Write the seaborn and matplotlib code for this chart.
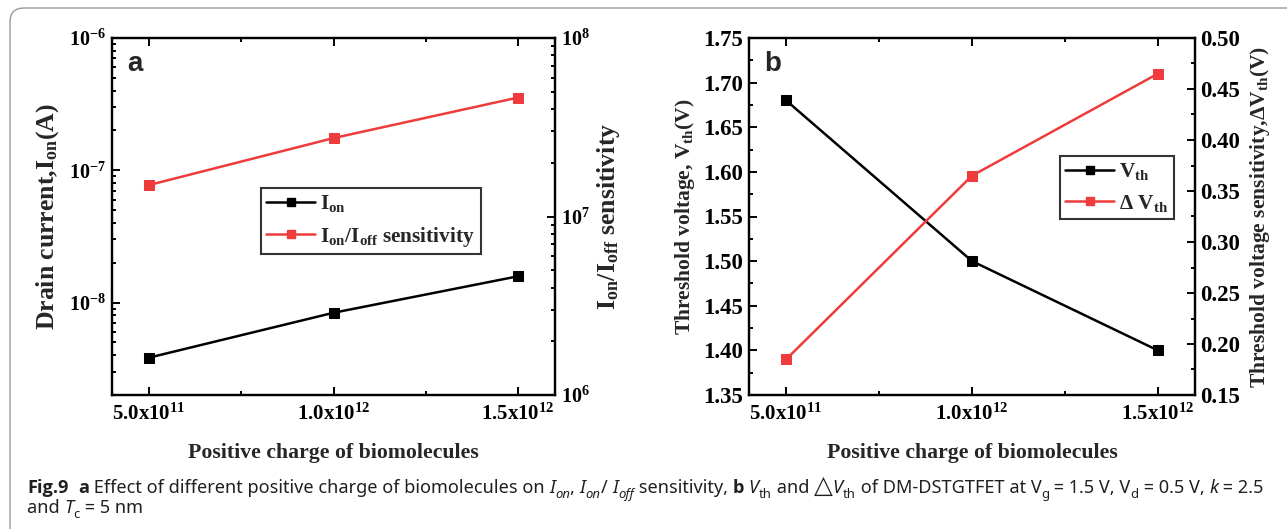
import numpy as np
import pandas as pd
import matplotlib
matplotlib.use('Agg')
import matplotlib.pyplot as plt
import seaborn as sns
from matplotlib import font_manager as fm
from matplotlib.patches import FancyBboxPatch
from matplotlib.transforms import IdentityTransform
from matplotlib.ticker import FixedLocator, FuncFormatter, LogLocator, MultipleLocator, NullFormatter
from matplotlib.lines import Line2D

# ---------------- data ----------------
charge = [5e11, 1e12, 1.5e12]
ion = [3.83e-9, 8.37e-9, 1.58e-8]
ion_ioff_sens = [1.50e7, 2.75e7, 4.64e7]
vth = [1.68, 1.50, 1.40]
dvth = [0.185, 0.365, 0.465]
x_ticks = [5e11, 1e12, 1.5e12]
vth_ticks = [1.35, 1.40, 1.45, 1.50, 1.55, 1.60, 1.65, 1.70, 1.75]
dvth_ticks = [0.15, 0.20, 0.25, 0.30, 0.35, 0.40, 0.45, 0.50]

BLACK = '#000000'
RED = '#EE3B3B'

sns.set_theme(style='ticks')
plt.rcParams.update({
    'font.family': ['Liberation Serif', 'DejaVu Serif'],
    'font.weight': 'bold',
    'axes.labelweight': 'bold',
    'mathtext.fontset': 'custom',
    'mathtext.rm': 'Liberation Serif:bold',
    'mathtext.it': 'Liberation Serif:bold',
    'mathtext.bf': 'Liberation Serif:bold',
    'axes.linewidth': 1.6,
    'axes.edgecolor': 'black',
})

W, H = 1287, 529
fig = plt.figure(figsize=(W / 100, H / 100), dpi=100)
fig.patch.set_facecolor('white')

XTICK_FS = 15
LOGTICK_FS = 14.5
DECTICK_FS = 16.5
XLABEL_FS = 15.7
YLABEL_A_FS = 18.5
YLABEL_B_FS = 15.5
LEG_FS = 15.3


def xfmt(v, pos):
    e = int(np.floor(np.log10(v)))
    m = v / 10 ** e
    return r'$\mathrm{%.1fx10^{%d}}$' % (m, e)


def logfmt(v, pos):
    e = int(round(np.log10(v)))
    return r'$\mathrm{10^{%d}}$' % e


def style_common(ax, yfs):
    ax.set_xlim(4e11, 1.6e12)
    ax.xaxis.set_major_locator(FixedLocator(x_ticks))
    ax.xaxis.set_minor_locator(MultipleLocator(2.5e11))
    ax.xaxis.set_major_formatter(FuncFormatter(xfmt))
    ax.tick_params(axis='both', which='both', direction='in', width=1.4, colors='black')
    ax.tick_params(axis='x', which='both', top=True, bottom=True, labelsize=XTICK_FS, pad=6)
    ax.tick_params(axis='y', which='both', left=True, right=False, labelsize=yfs, pad=4)
    ax.tick_params(which='major', length=6)
    ax.tick_params(which='minor', length=3)
    for s in ax.spines.values():
        s.set_linewidth(1.6)
        s.set_color('black')


def style_twin(ax2, yfs):
    ax2.tick_params(axis='y', which='both', direction='in', width=1.4,
                    labelsize=yfs, left=False, right=True, colors='black', pad=4)
    ax2.tick_params(axis='y', which='major', length=6)
    ax2.tick_params(axis='y', which='minor', length=3)
    ax2.tick_params(axis='x', which='both', top=False, bottom=False,
                    labeltop=False, labelbottom=False)
    for s in ax2.spines.values():
        s.set_linewidth(1.6)
        s.set_color('black')


line_kw = dict(marker='s', markersize=6.5, linewidth=1.8, legend=False)
leg_kw = dict(loc='upper left', fontsize=LEG_FS, frameon=True, fancybox=False,
              edgecolor='black', handlelength=2.3, borderpad=0.25, labelspacing=0.5,
              handletextpad=0.25, borderaxespad=0)

# ---------------- panel a ----------------
axa = fig.add_axes([112 / W, 134 / H, 443 / W, 357 / H])
axa.set_yscale('log')
sns.lineplot(x=charge, y=ion, ax=axa, color=BLACK, markeredgecolor=BLACK, **line_kw)
style_common(axa, LOGTICK_FS)
axa.set_ylim(2e-9, 1e-6)
axa.yaxis.set_major_locator(LogLocator(base=10, numticks=10))
axa.yaxis.set_minor_locator(LogLocator(base=10, subs=np.arange(2, 10), numticks=20))
axa.yaxis.set_major_formatter(FuncFormatter(logfmt))
axa.yaxis.set_minor_formatter(NullFormatter())
axa.set_xlabel('Positive charge of biomolecules', fontsize=XLABEL_FS, labelpad=13)
axa.set_ylabel(r'Drain current,I$_\mathrm{on}$(A)', fontsize=YLABEL_A_FS, labelpad=6)

axa2 = axa.twinx()
axa2.set_yscale('log')
sns.lineplot(x=charge, y=ion_ioff_sens, ax=axa2, color=RED, markeredgecolor=RED, **line_kw)
axa2.set_ylim(1e6, 1e8)
axa2.yaxis.set_major_locator(LogLocator(base=10, numticks=10))
axa2.yaxis.set_minor_locator(LogLocator(base=10, subs=np.arange(2, 10), numticks=20))
axa2.yaxis.set_major_formatter(FuncFormatter(logfmt))
axa2.yaxis.set_minor_formatter(NullFormatter())
style_twin(axa2, LOGTICK_FS)
axa2.set_ylabel(r'I$_\mathrm{on}$/I$_\mathrm{off}$ sensitivity', fontsize=YLABEL_A_FS, labelpad=4)
axa2.set_xlim(4e11, 1.6e12)

ha = [Line2D([], [], color=BLACK, marker='s', markersize=6, lw=1.8),
      Line2D([], [], color=RED, marker='s', markersize=6, lw=1.8)]
leg = axa2.legend(ha, [r'I$_\mathrm{on}$', r'I$_\mathrm{on}$/I$_\mathrm{off}$ sensitivity'],
                  bbox_to_anchor=(0.336, 0.58), **leg_kw)
leg.get_frame().set_linewidth(1.5)
axa2.text(0.035, 0.927, 'a', transform=axa.transAxes, fontsize=20, fontweight='bold',
          family='Liberation Sans', va='center', ha='left')

# ---------------- panel b ----------------
axb = fig.add_axes([749 / W, 134 / H, 446 / W, 357 / H])
sns.lineplot(x=charge, y=vth, ax=axb, color=BLACK, markeredgecolor=BLACK, **line_kw)
style_common(axb, DECTICK_FS)
axb.set_ylim(1.35, 1.75)
axb.yaxis.set_major_locator(FixedLocator(vth_ticks))
axb.yaxis.set_minor_locator(MultipleLocator(0.025))
axb.yaxis.set_major_formatter(FuncFormatter(lambda v, p: '%.2f' % v))
axb.set_xlabel('Positive charge of biomolecules', fontsize=XLABEL_FS, labelpad=13)
axb.set_ylabel(r'Threshold voltage, V$_\mathrm{th}$(V)', fontsize=YLABEL_B_FS, labelpad=5)

axb2 = axb.twinx()
sns.lineplot(x=charge, y=dvth, ax=axb2, color=RED, markeredgecolor=RED, **line_kw)
axb2.set_ylim(0.15, 0.50)
axb2.yaxis.set_major_locator(FixedLocator(dvth_ticks))
axb2.yaxis.set_minor_locator(MultipleLocator(0.025))
axb2.yaxis.set_major_formatter(FuncFormatter(lambda v, p: '%.2f' % v))
style_twin(axb2, DECTICK_FS)
axb2.set_ylabel(r'Threshold voltage sensitivity,$\Delta$V$_\mathrm{th}$(V)', fontsize=YLABEL_B_FS, labelpad=5)
axb2.set_xlim(4e11, 1.6e12)

hb = [Line2D([], [], color=BLACK, marker='s', markersize=6, lw=1.8),
      Line2D([], [], color=RED, marker='s', markersize=6, lw=1.8)]
legb = axb2.legend(hb, [r'V$_\mathrm{th}$', r'$\Delta$ V$_\mathrm{th}$'],
                   bbox_to_anchor=(0.697, 0.67), **leg_kw)
legb.get_frame().set_linewidth(1.5)
axb2.text(0.035, 0.927, 'b', transform=axb.transAxes, fontsize=20, fontweight='bold',
          family='Liberation Sans', va='center', ha='left')

# ---------------- border ----------------
border = FancyBboxPatch((10, -30), 1330, H - 8 + 30, boxstyle='round,pad=0,rounding_size=14',
                        transform=IdentityTransform(), facecolor='none', edgecolor='#9a9a9a',
                        linewidth=1.0, zorder=0)
fig.patches.append(border)

# ---------------- caption ----------------
renderer = fig.canvas.get_renderer()


def pick_family(weight, style):
    for fam in ['Noto Sans', 'Open Sans', 'Lato', 'Roboto', 'DejaVu Sans']:
        try:
            p = fm.findfont(fm.FontProperties(family=fam, weight=weight, style=style),
                            fallback_to_default=False)
        except Exception:
            continue
        name = p.lower()
        if weight == 'bold' and not ('bold' in name or 'black' in name):
            continue
        if style == 'italic' and not ('italic' in name or 'oblique' in name):
            continue
        return fam
    return 'DejaVu Sans'


FAM_R = pick_family('normal', 'normal')
FAM_B = pick_family('bold', 'normal')
FAM_I = pick_family('normal', 'italic')


def run_kw(style, size):
    fam = FAM_R
    kw = dict(fontsize=size, fontweight='normal', fontstyle='normal', color='#231f20')
    if 'b' in style:
        kw['fontweight'] = 'bold'
        fam = FAM_B
    if 'i' in style:
        kw['fontstyle'] = 'italic'
        fam = FAM_I
    if 's' in style:
        kw['fontsize'] = size * 0.72
    if 'g' in style:
        kw['fontsize'] = size * 1.35
    kw['family'] = [fam, 'DejaVu Sans']
    return kw


def measure(s, kw):
    t = fig.text(0, 0, s + '|', **kw)
    w1 = t.get_window_extent(renderer).width
    t.remove()
    t = fig.text(0, 0, '|', **kw)
    w2 = t.get_window_extent(renderer).width
    t.remove()
    return w1 - w2


def draw_runs(runs, x0, ybase, size, draw=True):
    x = x0
    for s, style in runs:
        kw = run_kw(style, size)
        w = measure(s, kw)
        if draw:
            dy = -3.5 * size / 10 if 's' in style else 0
            fig.text(x / W, (ybase + dy) / H, s, ha='left', va='baseline', **kw)
        x += w
    return x - x0


line1 = [('Fig.9', 'b'), ('  ', 'r'), ('a', 'b'),
         (' Effect of different positive charge of biomolecules on ', 'r'),
         ('I', 'i'), ('on', 'is'), (', ', 'r'), ('I', 'i'), ('on', 'is'), ('/ ', 'r'),
         ('I', 'i'), ('off', 'is'), (' sensitivity, ', 'r'), ('b', 'b'), (' ', 'r'),
         ('V', 'i'), ('th', 's'), (' and ', 'r'), ('\u25b3', 'g'), ('V', 'i'), ('th', 's'),
         (' of DM-DSTGTFET at V', 'r'), ('g', 's'), (' = 1.5 V, V', 'r'), ('d', 's'),
         (' = 0.5 V, ', 'r'), ('k', 'i'), (' = 2.5', 'r')]
line2 = [('and ', 'r'), ('T', 'i'), ('c', 's'), (' = 5 nm', 'r')]

base = 10.0
x_start = 27
wnat = draw_runs(line1, x_start, 36, base, draw=False)
cap_size = base * (1235 / wnat)
draw_runs(line1, x_start, 36, cap_size)
draw_runs(line2, x_start, 16, cap_size)

fig.savefig('out.png', dpi=100, facecolor='white')
